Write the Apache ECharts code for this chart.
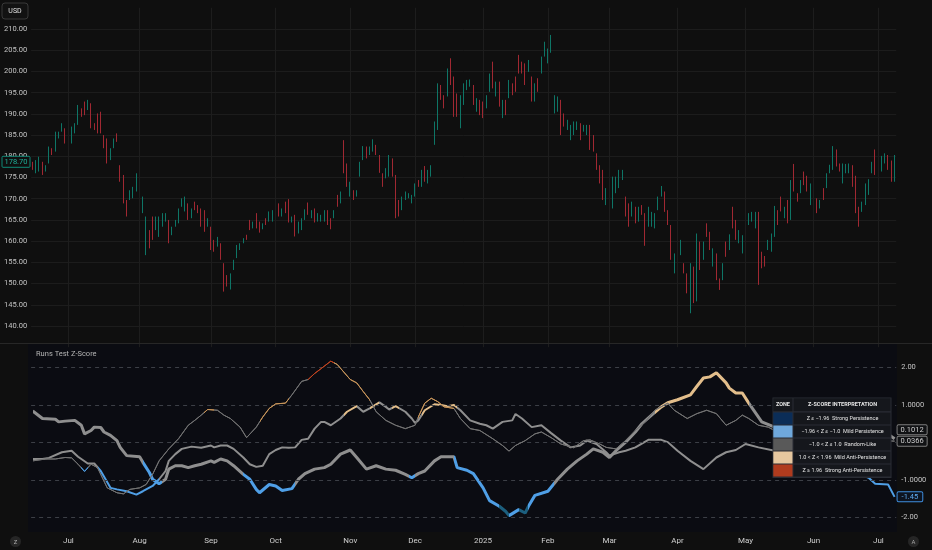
<!DOCTYPE html>
<html><head><meta charset="utf-8">
<script src="https://cdn.jsdelivr.net/npm/echarts@6/dist/echarts.min.js"></script>
<style>html,body{margin:0;padding:0;background:#0f0f0f;}#c{width:932px;height:550px;}</style>
</head><body><div id="c"></div>
<script>
// ---- data ----
const startDate = '2024-06-13';
const holidays = ['2024-06-19','2024-07-04','2024-09-02','2024-11-28','2024-12-25','2025-01-01','2025-01-09','2025-01-20','2025-02-17','2025-04-18','2025-05-26','2025-06-19','2025-07-04'];
const opens = [
178.4,176.6,177.0,178.2,176.7,178.8,181.6,181.6,184.5,186.0,
186.3,183.4,183.6,185.7,187.8,191.0,192.4,191.2,192.0,187.5,
189.5,190.0,184.6,183.6,179.5,182.2,185.0,177.5,175.0,169.2,
170.0,170.5,172.2,171.0,167.0,158.0,162.2,165.2,163.0,161.6,
163.8,164.9,164.5,161.7,163.6,164.6,168.4,167.4,168.5,165.7,
169.0,168.2,167.2,166.8,163.7,163.0,160.0,159.0,159.1,154.3,
151.7,149.0,153.5,156.4,158.2,159.7,161.3,164.7,163.6,166.2,
164.2,163.0,165.1,164.9,165.0,170.0,168.5,166.0,169.0,169.3,
164.6,165.8,162.2,163.0,165.3,168.8,165.7,167.3,164.9,164.9,
165.0,166.9,165.0,165.7,170.5,169.3,183.0,177.6,170.9,171.7,
170.8,175.6,179.5,182.0,180.6,181.5,182.4,179.8,175.6,175.2,
175.7,179.0,175.0,169.2,167.7,170.0,170.3,169.2,170.9,174.1,
173.3,177.3,174.0,175.5,183.2,187.0,196.4,194.1,194.7,202.6,
198.2,194.3,187.3,192.6,195.9,196.7,196.4,190.9,192.9,192.5,
191.7,195.6,201.7,194.5,197.0,189.4,192.9,194.1,196.9,198.4,
203.4,202.0,201.4,200.2,198.2,193.3,198.0,199.9,203.9,202.3,
204.8,190.5,190.9,192.6,189.7,186.5,184.2,185.4,186.5,187.4,
186.1,185.4,186.9,184.6,180.3,177.5,176.2,169.0,174.2,168.4,
171.7,172.9,174.7,170.1,168.4,166.2,167.7,165.0,168.2,166.0,
163.9,163.8,163.4,167.7,170.8,171.2,167.0,163.2,152.9,155.7,
157.1,154.5,152.0,144.5,153.0,146.5,159.4,156.0,163.9,161.8,
154.4,156.5,150.9,151.2,159.5,158.3,167.6,164.6,159.8,157.5,
161.3,164.1,164.9,163.4,165.5,157.1,156.2,158.2,157.9,161.5,
167.0,170.1,165.7,169.3,165.6,177.6,171.0,171.6,176.1,175.1,
169.0,169.2,169.8,168.0,172.2,172.9,176.3,177.4,181.2,178.0,
174.0,176.3,176.3,177.5,174.8,167.7,167.2,169.0,171.3,176.3,
181.0,175.1,176.8,178.6,180.0,178.6,175.0];
const closes = [
177.2,178.6,179.4,176.0,177.6,181.8,180.6,185.2,185.5,187.4,
183.5,185.0,186.5,187.4,191.6,189.6,190.1,192.9,187.2,186.5,
186.0,185.9,182.3,179.0,181.5,183.8,183.7,174.5,169.6,166.3,
171.6,172.4,175.4,175.2,170.0,164.5,158.8,161.0,165.4,165.2,
166.2,166.3,160.2,163.0,164.7,167.3,169.8,170.0,165.5,167.3,
167.6,166.9,164.0,162.8,165.1,158.5,157.9,160.6,156.1,148.8,
149.7,151.9,155.2,158.7,159.2,160.5,160.5,163.0,164.4,163.5,
162.4,164.0,164.1,166.7,167.0,166.7,166.2,167.4,167.0,165.0,
165.5,161.7,164.2,165.0,167.2,166.6,167.0,164.8,166.3,165.9,
167.0,164.3,163.2,167.0,168.5,171.3,176.8,173.4,173.6,170.1,
171.7,178.3,182.0,179.9,182.0,183.6,180.6,176.6,173.3,176.9,
179.8,175.7,166.3,166.3,170.1,171.4,171.0,170.6,173.2,173.1,
176.3,174.5,176.4,177.6,187.7,196.3,193.7,191.7,200.1,197.4,
190.2,189.8,193.8,196.7,197.7,197.9,192.6,193.3,190.1,189.4,
194.0,199.0,196.6,197.2,192.3,192.8,190.1,197.6,194.8,195.6,
200.0,199.9,197.4,202.3,193.5,196.8,195.6,203.1,206.6,205.0,
208.1,194.0,193.7,185.8,187.4,188.3,187.0,187.8,187.9,184.3,
187.1,187.0,182.1,181.5,177.3,174.1,170.4,172.0,168.4,174.5,
174.8,176.3,176.5,166.3,164.0,168.9,164.6,167.7,166.5,159.7,
167.6,166.5,166.2,170.1,172.7,167.4,164.2,156.5,156.6,159.4,
159.9,152.8,148.2,147.5,146.5,161.0,153.8,159.5,161.4,158.4,
157.9,151.5,149.0,154.4,156.8,161.2,163.5,160.8,162.3,161.0,
162.7,166.3,166.6,166.5,151.4,154.1,154.3,160.0,161.4,167.7,
164.3,167.5,167.8,164.7,173.7,172.3,169.6,174.0,173.6,172.1,
173.1,171.0,167.0,169.4,170.0,175.6,177.7,181.8,178.0,176.7,
177.8,177.8,178.0,173.3,167.3,164.0,169.0,173.2,174.3,178.4,
176.3,176.9,179.7,180.4,177.3,174.6,178.7];
const lows = [
176.8,176.0,176.4,175.6,176.4,178.3,180.3,181.1,184.2,185.8,
183.0,183.0,183.0,185.4,187.4,189.3,189.7,190.9,186.6,186.2,
185.4,185.4,181.9,178.3,179.1,181.9,183.4,174.0,168.9,165.8,
169.7,170.1,171.7,170.5,166.6,156.7,158.3,160.3,162.6,161.0,
163.4,164.6,159.5,161.4,163.4,164.2,168.1,167.0,165.0,165.4,
167.3,166.6,163.4,162.2,163.4,157.9,157.5,158.7,155.6,148.1,
149.3,148.6,153.2,156.0,157.9,159.5,160.3,162.6,163.0,163.0,
162.0,162.8,163.8,164.6,164.6,166.2,165.8,165.8,166.6,164.4,
164.4,161.1,161.8,162.6,165.0,166.2,165.4,164.4,164.6,164.6,
164.6,163.8,162.8,165.4,168.1,168.9,176.0,172.8,170.5,169.7,
170.5,175.2,179.1,179.5,180.3,181.1,180.3,176.1,172.8,174.8,
175.2,175.2,165.4,165.8,167.3,169.7,170.1,168.9,170.5,172.8,
172.8,174.0,173.6,175.2,182.7,186.2,193.3,191.3,194.1,196.8,
189.3,189.3,186.6,192.1,195.6,196.4,192.1,190.5,189.7,189.0,
191.3,195.2,196.0,194.1,191.7,189.0,189.7,193.7,194.4,195.2,
199.5,199.5,196.8,199.9,192.9,192.9,195.2,199.5,203.5,201.9,
204.4,190.1,190.5,185.0,187.0,186.2,183.8,185.0,186.2,183.8,
185.8,185.0,181.5,181.1,176.8,173.6,169.7,168.5,167.7,167.7,
171.3,172.5,174.4,165.8,163.4,165.8,164.2,164.6,166.2,158.9,
163.4,163.4,163.0,167.3,170.5,166.9,163.8,155.6,152.4,155.2,
156.7,152.4,147.7,143.0,145.4,145.8,153.2,155.6,161.0,157.9,
154.0,150.8,148.5,150.8,156.3,157.9,163.0,160.3,159.5,157.1,
161.0,163.8,164.6,163.0,149.7,153.6,154.0,157.9,157.5,161.0,
163.8,167.0,165.4,164.2,165.0,171.7,169.3,171.3,173.2,171.7,
168.5,168.9,166.6,167.7,169.7,172.5,176.0,176.8,177.6,176.4,
173.6,176.0,176.0,172.8,166.6,163.4,166.9,168.5,170.9,176.0,
175.6,174.8,176.4,178.3,176.8,174.0,174.0];
const highs = [
178.7,179.1,179.9,178.7,177.9,182.3,181.9,185.8,185.8,187.8,
186.6,185.4,187.0,187.8,192.1,191.3,192.9,193.3,192.5,187.8,
190.1,190.5,185.0,184.2,181.9,184.2,185.4,177.9,175.6,169.7,
172.0,172.8,176.0,176.0,170.5,165.8,162.6,165.8,165.8,165.8,
166.6,166.6,165.0,163.4,165.0,167.7,170.1,170.5,168.9,167.7,
169.3,168.5,167.7,167.3,165.4,163.4,160.3,161.0,159.5,154.8,
152.0,152.4,155.6,159.1,159.5,160.7,161.5,165.0,164.6,166.6,
164.6,164.2,165.4,167.0,167.3,170.5,168.9,167.7,169.3,169.9,
165.8,166.2,164.6,165.4,167.5,169.1,167.3,167.7,166.6,166.2,
167.3,167.3,165.4,167.3,170.9,171.7,183.8,178.3,174.0,172.0,
172.0,178.7,182.4,182.3,182.3,184.0,182.7,180.3,176.0,177.2,
180.3,179.5,175.6,169.7,170.5,171.7,171.3,170.9,173.6,174.4,
176.8,177.7,176.8,177.9,188.2,197.2,196.8,194.4,200.7,203.1,
198.8,194.8,194.4,197.2,198.0,198.1,196.8,193.7,193.3,192.9,
194.4,199.5,202.3,197.6,197.6,193.3,193.3,198.0,197.2,198.8,
203.9,202.3,201.9,202.7,198.8,197.2,198.4,203.5,207.0,205.4,
208.6,194.4,194.1,193.3,190.1,188.6,187.4,188.2,188.2,187.8,
187.4,187.4,187.4,185.0,180.7,177.9,176.8,172.5,174.8,175.2,
175.2,176.8,176.8,170.5,168.9,169.3,168.1,168.1,168.5,166.6,
168.1,166.9,166.6,170.5,173.0,171.7,167.3,163.8,157.1,159.9,
160.3,154.8,152.4,154.8,154.0,161.8,159.9,159.9,164.2,162.2,
158.3,157.1,151.2,154.8,159.9,161.6,168.1,165.0,162.6,161.4,
163.0,166.6,166.9,166.9,166.9,157.5,156.5,160.3,161.8,168.3,
167.3,170.5,168.1,169.7,174.4,178.2,171.3,174.4,176.4,175.4,
173.6,171.3,170.1,169.7,172.5,176.0,178.0,182.4,181.6,178.3,
178.3,178.2,178.3,177.9,175.4,168.1,169.3,173.6,174.6,178.7,
181.6,177.2,180.1,180.7,180.3,179.0,180.3];

// Runs-test z-score lines: [bar index, z]
const thickPts = [[0,0.84],[3,0.64],[7,0.62],[8,0.55],[10,0.57],[13,0.59],[15,0.46],[16,0.23],[18,0.32],[19,0.41],[21,0.40],[22,0.28],[24,0.19],[26,0.05],[27,-0.13],[29,-0.35],[33,-0.38],[34,-0.53],[36,-0.80],[37,-0.98],[39,-1.10],[41,-0.98],[42,-0.71],[44,-0.62],[46,-0.62],[48,-0.67],[50,-0.62],[52,-0.58],[55,-0.49],[56,-0.53],[58,-0.44],[60,-0.49],[62,-0.62],[65,-0.85],[67,-0.98],[69,-1.25],[70,-1.34],[73,-1.12],[75,-1.16],[77,-1.28],[80,-1.23],[82,-0.98],[84,-0.83],[87,-0.71],[90,-0.67],[92,-0.58],[95,-0.31],[98,-0.20],[100,-0.40],[103,-0.71],[106,-0.62],[109,-0.71],[112,-0.74],[115,-0.85],[117,-0.94],[119,-0.83],[121,-0.76],[124,-0.49],[126,-0.38],[130,-0.38],[131,-0.67],[134,-0.74],[136,-0.83],[139,-1.21],[141,-1.55],[144,-1.70],[146,-1.84],[147,-1.95],[150,-1.79],[152,-1.88],[153,-1.70],[155,-1.41],[159,-1.30],[162,-0.98],[165,-0.71],[168,-0.49],[171,-0.31],[173,-0.17],[176,-0.26],[178,-0.40],[180,-0.22],[183,0.01],[186,0.28],[188,0.50],[191,0.73],[194,0.95],[196,1.06],[199,1.14],[203,1.27],[205,1.50],[207,1.72],[209,1.75],[211,1.86],[212,1.77],[214,1.59],[215,1.45],[217,1.32],[219,1.32],[221,1.05],[225,0.55],[229,0.41],[234,0.45],[239,0.55],[244,0.45],[249,0.30],[254,0.35],[259,0.40],[263,0.28],[266,0.1012]];
const midPts = [[0,-0.44],[3,-0.44],[5,-0.41],[9,-0.26],[12,-0.22],[14,-0.38],[17,-0.56],[19,-0.56],[21,-0.76],[24,-1.21],[26,-1.25],[29,-1.30],[32,-1.39],[34,-1.30],[37,-1.16],[39,-0.98],[41,-0.76],[42,-0.49],[44,-0.31],[46,-0.17],[49,-0.11],[52,-0.14],[55,-0.08],[56,-0.13],[58,-0.08],[60,-0.08],[62,-0.17],[65,-0.40],[67,-0.58],[69,-0.65],[71,-0.62],[73,-0.31],[75,-0.20],[77,-0.13],[79,-0.14],[81,-0.13],[83,0.07],[85,0.10],[87,0.37],[89,0.55],[90,0.55],[92,0.46],[95,0.64],[97,0.82],[100,0.97],[102,0.82],[104,0.91],[107,1.07],[109,0.95],[110,0.88],[112,0.97],[115,0.82],[117,0.64],[118,0.52],[119,0.59],[121,0.86],[124,1.02],[126,1.00],[128,0.97],[130,1.00],[132,0.86],[135,0.59],[138,0.50],[140,0.46],[142,0.37],[145,0.55],[148,0.59],[149,0.76],[151,0.64],[154,0.41],[157,0.46],[160,0.25],[163,0.05],[166,-0.13],[169,-0.08],[171,0.05],[174,-0.04],[177,-0.26],[178,-0.35],[181,-0.26],[183,-0.22],[186,-0.13],[190,0.07],[194,0.07],[196,0.01],[199,-0.22],[203,-0.49],[207,-0.71],[211,-0.40],[214,-0.26],[217,-0.20],[220,-0.04],[224,-0.13],[229,-0.22],[234,-0.35],[239,-0.30],[244,-0.50],[249,-0.65],[254,-0.80],[258,-0.94],[260,-1.10],[264,-1.12],[266,-1.45]];
const thinPts = [[0,-0.49],[4,-0.44],[7,-0.44],[10,-0.40],[12,-0.41],[14,-0.58],[16,-0.77],[18,-0.58],[20,-0.67],[23,-1.21],[26,-1.34],[28,-1.37],[30,-1.25],[33,-1.21],[35,-1.12],[37,-0.85],[39,-0.49],[42,-0.17],[45,0.10],[48,0.46],[50,0.59],[52,0.73],[54,0.88],[57,0.86],[59,0.73],[61,0.64],[64,0.41],[66,0.13],[69,0.41],[71,0.68],[73,0.91],[75,1.03],[78,1.05],[80,1.27],[83,1.63],[85,1.68],[87,1.84],[89,1.97],[92,2.17],[94,2.08],[98,1.68],[100,1.59],[102,1.36],[104,1.14],[106,0.82],[109,0.59],[112,0.46],[115,0.37],[118,0.46],[119,0.68],[121,1.05],[123,1.18],[125,1.09],[127,0.95],[130,0.91],[132,0.64],[135,0.37],[138,0.32],[142,0.10],[145,-0.08],[147,-0.23],[149,-0.08],[152,0.05],[155,0.23],[157,0.28],[160,0.13],[163,-0.04],[167,-0.14],[170,0.05],[172,0.07],[175,-0.04],[177,-0.13],[180,-0.17],[183,0.05],[186,0.32],[189,0.55],[192,0.86],[196,1.05],[198,0.86],[202,0.64],[205,0.77],[208,0.86],[211,0.77],[214,0.46],[217,0.59],[219,0.73],[221,0.64],[224,0.46],[227,0.41],[229,0.32],[233,0.45],[238,0.30],[243,0.15],[248,0.25],[253,0.10],[258,-0.05],[262,0.05],[266,0.0366]];
// zone segments [start bar, zone index]
const thickZones = [[0,2],[34,1],[40,2],[65,1],[81,2],[116,1],[118,2],[130,1],[144,0],[147,1],[150,0],[153,1],[161,2],[192,3],[221,2]];
const midZones = [[0,2],[20,1],[39,2],[96,3],[100,2],[104,3],[107,2],[111,3],[113,2],[120,3],[131,2],[256,1]];
const thinZones = [[0,2],[15,1],[17,2],[53,3],[56,2],[70,3],[79,2],[85,4],[93,3],[104,2],[119,3],[130,2]];
const zoneLabels = ['Z \u2264 \u22121.96  Strong Persistence','\u22121.96 < Z \u2264 \u22121.0  Mild Persistence','\u22121.0 < Z \u2264 1.0  Random-Like','1.0 < Z < 1.96  Mild Anti-Persistence','Z \u2265 1.96  Strong Anti-Persistence'];
const zLevels = [2, 1, 0, -1, -2];
const zTickValues = [2, 1, -1, -2];
const monthNames = ['Jan','Feb','Mar','Apr','May','Jun','Jul','Aug','Sep','Oct','Nov','Dec'];

// ---- build ----
function tradingDays(start, n, hol) {
  const out = []; const d = new Date(start + 'T00:00:00Z');
  while (out.length < n) {
    const dow = d.getUTCDay(); const s = d.toISOString().slice(0, 10);
    if (dow !== 0 && dow !== 6 && hol.indexOf(s) < 0) out.push(s);
    d.setUTCDate(d.getUTCDate() + 1);
  }
  return out;
}
const dates = tradingDays(startDate, closes.length, holidays);
const monthStart = new Set();
for (let i = 1; i < dates.length; i++) if (dates[i].slice(0, 7) !== dates[i - 1].slice(0, 7)) monthStart.add(i);
const candles = dates.map((d, i) => [opens[i], closes[i], lows[i], highs[i]]);

const FONT = 'Roboto, "Noto Sans", sans-serif';
const swatch = ['#0b2d57', '#6fa8dc', '#595959', '#e6c79f', '#b03b1e'];
const lineCols = ['#1c5f7e', '#4f9fe6', '#8f8f8f', '#e3be8b', '#c2441f'];
const thinCols = ['#1c5f7e', '#4f9fe6', '#727272', '#c8955a', '#c2441f'];
function pieces(zones, cols) {
  return zones.map((z, k) => { const p = { gte: z[0], color: cols[z[1]] }; if (k < zones.length - 1) p.lt = zones[k + 1][0]; return p; });
}
const GL = 31.1, GR = 35.8;
const UP = '#0e7566', DOWN = '#a02832';
const option = {
  animation: false,
  backgroundColor: '#0f0f0f',
  textStyle: { fontFamily: FONT },
  grid: [
    { left: GL, right: GR, top: 7.8, height: 339.4 },
    { left: GL, right: GR, top: 344, height: 188 }
  ],
  xAxis: [
    { type: 'category', gridIndex: 0, data: dates, boundaryGap: true, axisLine: { show: false }, axisTick: { show: false }, axisLabel: { show: false }, splitLine: { show: false } },
    { type: 'category', gridIndex: 1, data: dates, boundaryGap: true, axisLine: { show: false }, axisTick: { show: false }, splitLine: { show: false },
      axisLabel: { interval: (i) => monthStart.has(i), color: '#cfcfcf', fontSize: 8, margin: 5, fontFamily: FONT,
        formatter: (v) => { const m = +v.slice(5, 7) - 1; return m === 0 ? v.slice(0, 4) : monthNames[m]; } } }
  ],
  yAxis: [
    { type: 'value', gridIndex: 0, position: 'left', min: 135, max: 215, interval: 5, axisLine: { show: false }, axisTick: { show: false },
      splitLine: { show: true, showMinLine: false, showMaxLine: false, lineStyle: { color: '#1c1c1c', width: 1 } },
      axisLabel: { color: '#c4c4c4', fontSize: 7.5, margin: 4, showMinLabel: false, showMaxLabel: false, fontFamily: FONT, formatter: (v) => v.toFixed(2) } },
    { type: 'value', gridIndex: 1, position: 'right', min: -2.387, max: 2.627, axisLine: { show: false }, axisTick: { show: false }, splitLine: { show: false },
      axisLabel: { customValues: zTickValues, color: '#c4c4c4', fontSize: 7.5, margin: 5, fontFamily: FONT,
        formatter: (v) => (Math.abs(v) === 2 ? v.toFixed(2) : v.toFixed(4)) } }
  ],
  visualMap: [
    { type: 'piecewise', show: false, seriesIndex: 1, dimension: 0, pieces: pieces(thickZones, lineCols) },
    { type: 'piecewise', show: false, seriesIndex: 2, dimension: 0, pieces: pieces(midZones, lineCols) },
    { type: 'piecewise', show: false, seriesIndex: 3, dimension: 0, pieces: pieces(thinZones, thinCols) }
  ],
  series: [
    { type: 'candlestick', xAxisIndex: 0, yAxisIndex: 0, data: candles, barWidth: 1.2,
      itemStyle: { color: UP, color0: DOWN, borderColor: UP, borderColor0: DOWN, borderWidth: 1 },
      markLine: { silent: true, symbol: 'none', label: { show: false }, lineStyle: { color: '#1d1d1d', width: 1, type: 'solid' },
        data: Array.from(monthStart).map(i => ({ xAxis: dates[i] })) } },
    { type: 'line', name: 'long', xAxisIndex: 1, yAxisIndex: 1, data: thickPts, showSymbol: false, lineStyle: { width: 3 }, z: 3,
      markLine: { silent: true, symbol: 'none', label: { show: false }, lineStyle: { color: '#3c3f46', width: 1, type: [4, 4] },
        data: zLevels.map(v => ({ yAxis: v })) },
      endLabel: { show: true, distance: 3, offset: [0, -9], formatter: (p) => p.value[1].toFixed(4), color: '#cfcfcf', fontSize: 7.5,
        backgroundColor: '#111214', borderColor: '#7d7d7d', borderWidth: 1, borderRadius: 1, padding: [1, 3, 0, 3], fontFamily: FONT } },
    { type: 'line', name: 'mid', xAxisIndex: 1, yAxisIndex: 1, data: midPts, showSymbol: false, lineStyle: { width: 2 }, z: 4,
      endLabel: { show: true, distance: 3, formatter: (p) => p.value[1].toFixed(2), color: '#5eaaf0', fontSize: 7.5,
        backgroundColor: '#0d1420', borderColor: '#3f8ede', borderWidth: 1, borderRadius: 1, padding: [1, 4, 0, 4], fontFamily: FONT } },
    { type: 'line', name: 'short', xAxisIndex: 1, yAxisIndex: 1, data: thinPts, showSymbol: false, lineStyle: { width: 1 }, z: 5,
      endLabel: { show: true, distance: 3, formatter: (p) => p.value[1].toFixed(4), color: '#cfcfcf', fontSize: 7.5,
        backgroundColor: '#111214', borderColor: '#7d7d7d', borderWidth: 1, borderRadius: 1, padding: [1, 3, 0, 3], fontFamily: FONT } }
  ]
};
const chart = echarts.init(document.getElementById('c'));
chart.setOption(option);

// ---- decorations ----
const py = chart.convertToPixel({ yAxisIndex: 0 }, closes[closes.length - 1]);
const paneL = 28, paneR = 897;
const g = [];
g.push({ type: 'rect', z: -10, silent: true, shape: { x: paneL, y: 344, width: paneR - paneL, height: 188 }, style: { fill: '#0b0c12' } });
g.push({ type: 'line', z: 50, silent: true, shape: { x1: 0, y1: 343.5, x2: 932, y2: 343.5 }, style: { stroke: '#272727', lineWidth: 1 } });
g.push({ type: 'text', z: 50, silent: true, style: { text: 'Runs Test Z-Score', x: 36, y: 354.5, fill: '#b5b5b5', font: '7.5px ' + FONT, textAlign: 'left', textVerticalAlign: 'middle', align: 'left', verticalAlign: 'middle' } });
// USD box
g.push({ type: 'rect', z: 50, silent: true, shape: { x: 2, y: 3, width: 26, height: 16, r: 3 }, style: { fill: '#121212', stroke: '#393939', lineWidth: 1 } });
g.push({ type: 'text', z: 51, silent: true, style: { text: 'USD', x: 15, y: 11.5, fill: '#e0e0e0', font: '7px ' + FONT, textAlign: 'center', textVerticalAlign: 'middle', align: 'center', verticalAlign: 'middle' } });
// last price tag
g.push({ type: 'rect', z: 50, silent: true, shape: { x: 2, y: py - 5.5, width: 28, height: 11, r: 1 }, style: { fill: '#0f0f0f', stroke: '#118a79', lineWidth: 1 } });
g.push({ type: 'text', z: 51, silent: true, style: { text: closes[closes.length - 1].toFixed(2), x: 16, y: py + 0.5, fill: '#1fae98', font: '7.5px ' + FONT, textAlign: 'center', textVerticalAlign: 'middle', align: 'center', verticalAlign: 'middle' } });
// bottom circles
[[15.5, 'Z'], [913.5, 'A']].forEach(([cx, t]) => {
  g.push({ type: 'circle', z: 50, silent: true, shape: { cx: cx, cy: 541.5, r: 5.5 }, style: { fill: '#262626' } });
  g.push({ type: 'text', z: 51, silent: true, style: { text: t, x: cx, y: 542, fill: '#a8a8a8', font: '6px ' + FONT, textAlign: 'center', textVerticalAlign: 'middle', align: 'center', verticalAlign: 'middle' } });
});
// zone legend table
const TX = 772.5, TY = 397.5, C1 = 20, C2 = 98;
g.push({ type: 'rect', z: 60, silent: true, shape: { x: TX, y: TY, width: C1 + C2 + 1, height: 80.5 }, style: { fill: '#2a2d34' } });
function cell(x, y, w, h, fill) { g.push({ type: 'rect', z: 61, silent: true, shape: { x: x, y: y, width: w, height: h }, style: { fill: fill } }); }
function txt(t, x, y, bold) { g.push({ type: 'text', z: 62, silent: true, style: { text: t, x: x, y: y, fill: '#e4e4e4', font: (bold ? 'bold ' : '') + '5.5px ' + FONT, textAlign: 'center', textVerticalAlign: 'middle', align: 'center', verticalAlign: 'middle' } }); }
cell(TX + 0.8, TY + 0.8, C1 - 0.8, 13, '#15171c');
cell(TX + C1 + 1, TY + 0.8, C2 - 1, 13, '#15171c');
txt('ZONE', TX + C1 / 2 + 0.4, TY + 7.5, true);
txt('Z-SCORE INTERPRETATION', TX + C1 + 1 + C2 / 2, TY + 7.5, true);
zoneLabels.forEach((lab, k) => {
  const y = TY + 15 + k * 13;
  cell(TX + 0.8, y, C1 - 0.8, 12, swatch[k]);
  cell(TX + C1 + 1, y, C2 - 1, 12, '#15171c');
  txt(lab, TX + C1 + 1 + C2 / 2, y + 6.3, false);
});
chart.setOption({ graphic: { elements: g } });
</script>
</body></html>
